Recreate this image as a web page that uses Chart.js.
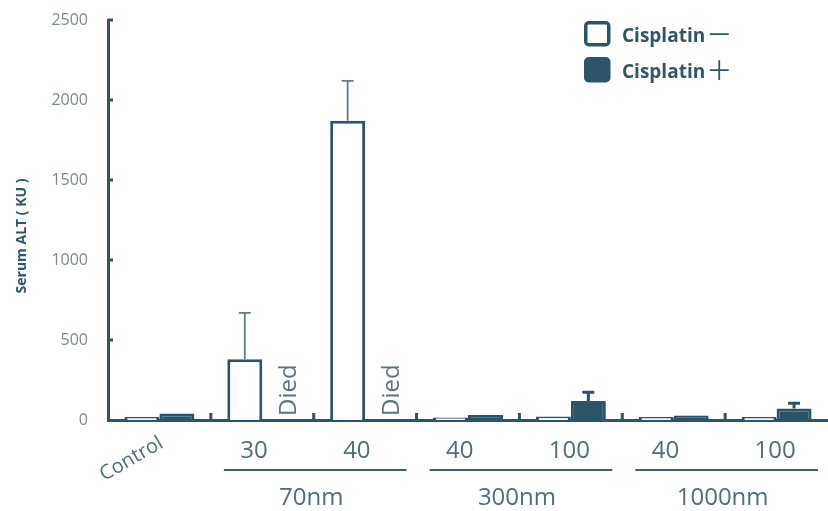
<!DOCTYPE html>
<html>
<head>
<meta charset="utf-8">
<script src="https://cdn.jsdelivr.net/npm/chart.js@4/dist/chart.umd.min.js"></script>
<style>
  html, body { margin: 0; padding: 0; background: #fff; overflow: hidden; }
  #wrap { width: 828px; height: 511px; position: relative; }
</style>
</head>
<body>
<div id="wrap"><canvas id="c" width="828" height="511"></canvas></div>
<script>
// Dose labels under each bar group and the particle-size groups they belong to
const categories = ['Control', '30', '40', '40', '100', '40', '100'];
const groupNames = ['70nm', '300nm', '1000nm'];
const groupFirst = [1, 3, 5];
const groupLast = [2, 4, 6];

// Serum ALT (KU), mean and upper error
const cisMinus = [18, 380, 1870, 15, 22, 18, 18];
const cisMinusErr = [0, 290, 250, 0, 0, 0, 0];
const cisPlus = [40, null, null, 32, 118, 28, 72];
const cisPlusErr = [0, 0, 0, 0, 56, 0, 33];
const plusDied = [false, true, true, false, false, false, false];

const seriesNames = ['Cisplatin', 'Cisplatin'];
const seriesSigns = ['\uFF0D', '\uFF0B'];
const yMin = 0, yMax = 2500, yStep = 500;

const DARK = '#2b5468';
const AXIS = '#2d5569';
const FONT = '"Open Sans", "DejaVu Sans", sans-serif';

const extras = {
  id: 'extras',
  afterDatasetsDraw(chart) {
    const ctx = chart.ctx;
    const x = chart.scales.x, y = chart.scales.y;
    const area = chart.chartArea;
    const errs = [cisMinusErr, cisPlusErr];
    const vals = [cisMinus, cisPlus];
    ctx.save();
    // upward error bars
    [0, 1].forEach(d => {
      const meta = chart.getDatasetMeta(d);
      meta.data.forEach((bar, i) => {
        const v = vals[d][i], e = errs[d][i];
        if (v == null || !e) return;
        const y0 = y.getPixelForValue(v);
        const y1 = y.getPixelForValue(v + e);
        ctx.strokeStyle = d === 0 ? '#5d7e89' : DARK;
        ctx.lineWidth = d === 0 ? 1.8 : 3;
        ctx.beginPath();
        ctx.moveTo(bar.x, y0);
        ctx.lineTo(bar.x, y1);
        ctx.moveTo(bar.x - 6, y1);
        ctx.lineTo(bar.x + 6, y1);
        ctx.stroke();
      });
    });
    // inward tick marks on both axes
    ctx.strokeStyle = AXIS;
    ctx.lineWidth = 3;
    ctx.beginPath();
    for (let v = yMin + yStep; v <= yMax; v += yStep) {
      const py = y.getPixelForValue(v);
      ctx.moveTo(area.left, py);
      ctx.lineTo(area.left + 5, py);
    }
    const half = (x.getPixelForValue(1) - x.getPixelForValue(0)) / 2;
    for (let i = 1; i < categories.length; i++) {
      const px = x.getPixelForValue(i) - half;
      ctx.moveTo(px, area.bottom);
      ctx.lineTo(px, area.bottom - 7);
    }
    ctx.stroke();
    // "Died" markers for the missing Cisplatin+ bars
    const metaPlus = chart.getDatasetMeta(1);
    ctx.fillStyle = '#56767f';
    ctx.font = '24px ' + FONT;
    ctx.textAlign = 'left';
    ctx.textBaseline = 'alphabetic';
    plusDied.forEach((dead, i) => {
      if (!dead) return;
      const px = metaPlus.data[i].x + 16;
      ctx.save();
      ctx.translate(px, area.bottom - 4);
      ctx.rotate(-Math.PI / 2);
      ctx.fillText('Died', 0, 0);
      ctx.restore();
    });
    ctx.restore();
  },
  afterDraw(chart) {
    const ctx = chart.ctx;
    const x = chart.scales.x;
    const area = chart.chartArea;
    const half = (x.getPixelForValue(1) - x.getPixelForValue(0)) / 2;
    ctx.save();
    // category labels
    ctx.fillStyle = '#4f6f78';
    ctx.font = '24px ' + FONT;
    ctx.textBaseline = 'alphabetic';
    ctx.textAlign = 'left';
    categories.forEach((c, i) => {
      if (i === 0) return;
      ctx.fillText(c, x.getPixelForValue(i) - 22, area.bottom + 38);
    });
    ctx.save();
    ctx.font = '20px ' + FONT;
    ctx.textAlign = 'center';
    ctx.textBaseline = 'middle';
    ctx.translate(x.getPixelForValue(0) - 28, area.bottom + 39);
    ctx.rotate(-Math.PI / 6);
    ctx.fillText(categories[0], 0, 0);
    ctx.restore();
    // group underlines and names
    groupNames.forEach((g, k) => {
      const l = x.getPixelForValue(groupFirst[k]) - half + 13;
      const r = Math.min(x.getPixelForValue(groupLast[k]) + half - 10, 826);
      ctx.strokeStyle = '#3a6272';
      ctx.lineWidth = 2;
      ctx.beginPath();
      ctx.moveTo(l, area.bottom + 50);
      ctx.lineTo(r, area.bottom + 50);
      ctx.stroke();
      ctx.textAlign = 'center';
      ctx.fillText(g, (l + r) / 2 - 4, area.bottom + 85);
    });
    // y axis title
    ctx.save();
    ctx.fillStyle = '#2e566a';
    ctx.font = 'bold 14px ' + FONT;
    ctx.textAlign = 'center';
    ctx.textBaseline = 'middle';
    ctx.translate(22, 236);
    ctx.rotate(-Math.PI / 2);
    ctx.fillText('Serum ALT ( KU )', 0, 0);
    ctx.restore();
    // legend
    const boxX = 584, rows = [21, 57];
    chart.data.datasets.forEach((ds, d) => {
      const by = rows[d];
      ctx.beginPath();
      ctx.roundRect(boxX + 1.75, by + 1.75, 23, 22, 3);
      ctx.fillStyle = ds.backgroundColor;
      ctx.fill();
      ctx.lineWidth = 3.5;
      ctx.strokeStyle = DARK;
      ctx.stroke();
      ctx.fillStyle = '#2e566a';
      ctx.font = 'bold 19px ' + FONT;
      ctx.textAlign = 'left';
      ctx.textBaseline = 'alphabetic';
      ctx.fillText(seriesNames[d], 622, by + 21);
      const w = ctx.measureText(seriesNames[d]).width;
      ctx.font = '26px "Noto Sans CJK JP"';
      ctx.fillText(seriesSigns[d], 622 + w + 1, by + 23);
    });
    ctx.restore();
  }
};

new Chart(document.getElementById('c'), {
  type: 'bar',
  data: {
    labels: categories,
    datasets: [
      { label: seriesNames[0] + seriesSigns[0], data: cisMinus, backgroundColor: '#ffffff', borderColor: DARK, borderWidth: 3 },
      { label: seriesNames[1] + seriesSigns[1], data: cisPlus, backgroundColor: DARK, borderColor: DARK, borderWidth: 3 }
    ]
  },
  options: {
    responsive: false,
    animation: false,
    layout: { padding: { top: 20, right: 0, left: 0, bottom: 0 } },
    datasets: { bar: { categoryPercentage: 0.68, barPercentage: 1.0 } },
    plugins: { legend: { display: false }, tooltip: { enabled: false } },
    scales: {
      x: {
        grid: { display: false },
        border: { display: true, color: AXIS, width: 3 },
        ticks: { display: false },
        afterFit(s) { s.height = 91; s.paddingTop = 0; }
      },
      y: {
        min: yMin, max: yMax,
        grid: { display: false, drawTicks: false },
        border: { display: true, color: AXIS, width: 3 },
        ticks: { stepSize: yStep, padding: 20, color: '#7d898c', font: { family: FONT, size: 16 }, callback: v => String(v) },
        afterFit(s) { s.width = 108; s.paddingTop = 0; s.paddingBottom = 0; }
      }
    }
  },
  plugins: [extras]
});
</script>
</body>
</html>
